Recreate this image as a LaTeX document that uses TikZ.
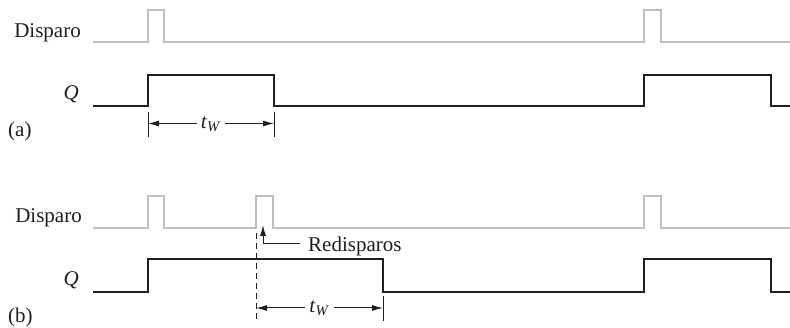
\documentclass[tikz,border=0pt]{standalone}
\usepackage{fontspec}
\setmainfont{Liberation Serif}
\usetikzlibrary{arrows.meta}
\definecolor{trig}{RGB}{190,190,192}
\definecolor{sig}{RGB}{30,30,30}
\tikzset{
  trigwave/.style={draw=trig, line width=2pt},
  qwave/.style={draw=sig, line width=2pt},
  tick/.style={draw=sig, line width=1pt},
  dimarrow/.style={draw=sig, line width=1pt, -{Latex[length=11pt,width=6pt]}},
  lbl/.style={font=\fontsize{21}{24}\selectfont, inner sep=0pt, text=sig},
}
\begin{document}
\begin{tikzpicture}[x=1pt,y=-1pt]
\useasboundingbox (0,0) rectangle (790,328);
% ---------- (a) ----------
\node[lbl, anchor=base east] (dispA) at (81,37.5) {Disparo};
\node[lbl, anchor=base east] (qA) at (79,100) {\textit{Q}};
\node[lbl, anchor=base west] (labA) at (8,137) {(a)};
\draw[trigwave] (93,42) -- (148,42) -- (148,10) -- (164,10) -- (164,42)
  -- (644,42) -- (644,10) -- (661,10) -- (661,42) -- (790,42);
\draw[qwave] (93,106) -- (148,106) -- (148,75) -- (274,75) -- (274,106)
  -- (644,106) -- (644,75) -- (771,75) -- (771,106) -- (790,106);
\draw[tick] (148,112) -- (148,137);
\draw[tick] (274,112) -- (274,137);
\coordinate (aL) at (148,123.5);
\coordinate (aR) at (274,123.5);
\node[lbl, fill=white, inner xsep=4pt, inner ysep=2pt] (twA) at (211,124) {\textit{t}\textsubscript{\textit{W}}};
\draw[dimarrow] (twA.west |- aL) -- (aL);
\draw[dimarrow] (twA.east |- aR) -- (aR);
% ---------- (b) ----------
\node[lbl, anchor=base east] (dispB) at (82,223) {Disparo};
\node[lbl, anchor=base east] (qB) at (79,286) {\textit{Q}};
\node[lbl, anchor=base west] (labB) at (8,323) {(b)};
\draw[trigwave] (93,228) -- (148,228) -- (148,196) -- (164,196) -- (164,228)
  -- (256,228) -- (256,196) -- (273,196) -- (273,228)
  -- (644,228) -- (644,196) -- (661,196) -- (661,228) -- (790,228);
\draw[qwave] (93,292) -- (148,292) -- (148,259) -- (383,259) -- (383,292)
  -- (644,292) -- (644,259) -- (771,259) -- (771,292) -- (790,292);
\draw[tick, dash pattern=on 6pt off 4pt] (256,233) -- (256,321);
\draw[tick] (383,296) -- (383,321);
\coordinate (bL) at (256,308);
\coordinate (bR) at (383,308);
\node[lbl, fill=white, inner xsep=4pt, inner ysep=2pt] (twB) at (319.5,308.5) {\textit{t}\textsubscript{\textit{W}}};
\draw[dimarrow] (twB.west |- bL) -- (bL);
\draw[dimarrow] (twB.east |- bR) -- (bR);
\node[lbl, anchor=base west] (redis) at (308,252) {Redisparos};
\coordinate (rtip) at (263,225);
\draw[dimarrow] (redis.west |- 0,244) ++(-8,0) -- (263,244) -- (rtip);
\end{tikzpicture}
\end{document}
